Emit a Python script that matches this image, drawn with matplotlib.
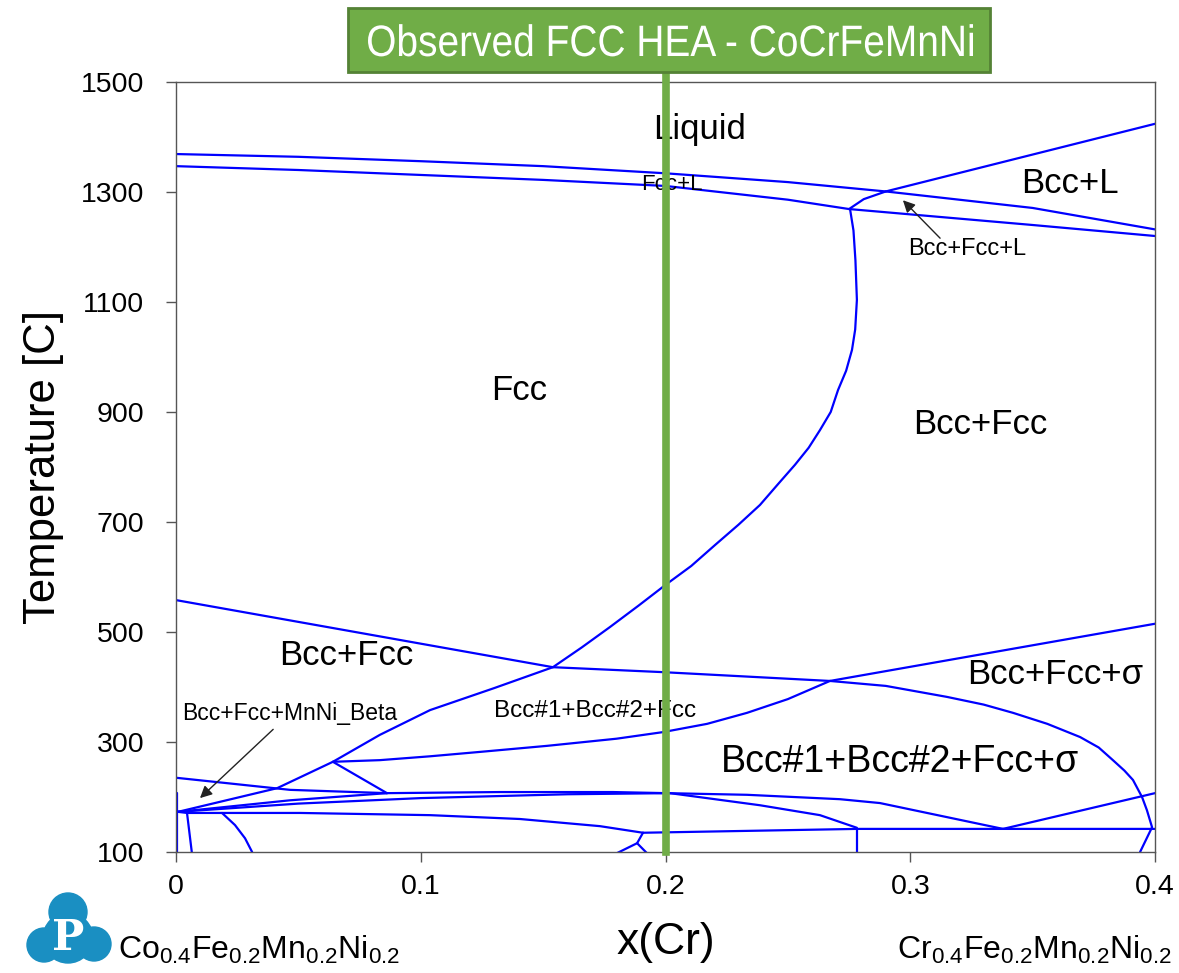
import numpy as np
import matplotlib.pyplot as plt
from matplotlib.patches import Circle, Rectangle, PathPatch
from matplotlib.textpath import TextPath
from matplotlib.font_manager import FontProperties
from matplotlib.transforms import Affine2D

plt.rcParams.update({
    "font.family": ["Liberation Sans", "DejaVu Sans"],
    "mathtext.fontset": "custom",
    "mathtext.rm": "Liberation Sans",
    "mathtext.it": "Liberation Sans",
    "mathtext.default": "regular",
})

# ====== phase boundaries, (x(Cr), T [C]) ======
liq_x = [0.0, 0.05, 0.1, 0.15, 0.2, 0.25, 0.29, 0.35, 0.4]
liq_t = [1369, 1364, 1356, 1347, 1334, 1318, 1301, 1271, 1232]
sol_x = [0.0, 0.05, 0.1, 0.15, 0.2, 0.25, 0.275, 0.35, 0.4]
sol_t = [1347, 1340, 1331, 1322, 1311, 1286, 1269, 1240, 1220]
bccliq_x = [0.29, 0.4]
bccliq_t = [1301, 1424]
bccsol_x = [0.275, 0.281, 0.29]
bccsol_t = [1269, 1287, 1301]

solvus_x = [0.2754, 0.2768, 0.2776, 0.2782, 0.2775, 0.2762, 0.2738, 0.2705, 0.2675,
            0.2631, 0.2585, 0.2529, 0.2462, 0.2386, 0.2298, 0.2202, 0.2105, 0.1998,
            0.189, 0.1773, 0.1658, 0.154, 0.13, 0.1038, 0.0833, 0.0641, 0.0413, 0.0008]
solvus_t = [1269, 1230, 1176, 1104, 1050, 1013, 975, 940, 900,
            867, 835, 804, 770, 731, 695, 658, 620, 585,
            548, 509, 472, 436, 398, 358, 313, 264, 216, 173]

bccfcc_x = [0.0, 0.154]
bccfcc_t = [558, 436]
sigma_x = [0.154, 0.199, 0.2672, 0.29, 0.315, 0.33, 0.342, 0.356, 0.3694, 0.377,
           0.3828, 0.3875, 0.391, 0.3947, 0.3967, 0.3988, 0.3939]
sigma_t = [436, 427, 411, 402, 382, 368, 353, 333, 309, 290,
           267, 248, 231, 200, 176, 145, 100]
sig_up_x = [0.2672, 0.4]
sig_up_t = [411, 515]
bcc2_x = [0.0641, 0.0833, 0.1038, 0.1242, 0.1516, 0.18, 0.199, 0.217, 0.2333, 0.25, 0.2672]
bcc2_t = [264, 267, 274, 282, 293, 306, 318, 333, 353, 378, 411]

low_a_x = [0.0, 0.0466, 0.0862]
low_a_t = [235, 213, 207]
low_b_x = [0.0641, 0.0862]
low_b_t = [264, 207]
low_c_x = [0.0862, 0.1324, 0.1785, 0.2333, 0.2713, 0.2876, 0.3379]
low_c_t = [207, 209, 209, 204, 196, 189, 142]
low_d_x = [0.2018, 0.2386, 0.2631, 0.2782]
low_d_t = [207, 185, 167, 144]
low_e_x = [0.1908, 0.2782, 0.4]
low_e_t = [135, 142, 142]
low_f_x = [0.3379, 0.4]
low_f_t = [142, 207]
low_g_x = [0.2782, 0.2782]
low_g_t = [142, 100]
low_h_x = [0.1908, 0.1884, 0.1802]
low_h_t = [135, 116, 98]
low_i_x = [0.1884, 0.1924]
low_i_t = [116, 98]
low_j_x = [0.0008, 0.0045, 0.0507, 0.1038, 0.1405, 0.1732, 0.1908]
low_j_t = [173, 171, 171, 167, 160, 147, 135]
low_k_x = [0.0045, 0.0065]
low_k_t = [171, 98]
low_l_x = [0.0188, 0.0241, 0.0282, 0.0311]
low_l_t = [171, 149, 125, 100]
low_m_x = [0.0004, 0.0004]
low_m_t = [207, 100]
low_n_x = [0.0008, 0.0466, 0.0862]
low_n_t = [173, 194, 207]
low_o_x = [0.0008, 0.05, 0.1, 0.16, 0.2018]
low_o_t = [173, 188, 198, 205, 207]

lines = [
    (liq_x, liq_t), (sol_x, sol_t), (bccliq_x, bccliq_t), (bccsol_x, bccsol_t),
    (solvus_x, solvus_t), (bccfcc_x, bccfcc_t), (sigma_x, sigma_t),
    (sig_up_x, sig_up_t), (bcc2_x, bcc2_t),
    (low_a_x, low_a_t), (low_b_x, low_b_t), (low_c_x, low_c_t), (low_d_x, low_d_t),
    (low_e_x, low_e_t), (low_f_x, low_f_t), (low_g_x, low_g_t), (low_h_x, low_h_t),
    (low_i_x, low_i_t), (low_j_x, low_j_t), (low_k_x, low_k_t), (low_l_x, low_l_t),
    (low_m_x, low_m_t), (low_n_x, low_n_t), (low_o_x, low_o_t),
]

# region labels: (text, x, T, size)
region_labels = [
    ("Liquid", 0.2141, 1413, 25), ("Fcc", 0.1401, 940, 25), ("Bcc+Fcc", 0.3285, 878, 25),
    ("Bcc+L", 0.3653, 1316, 25), ("Bcc+Fcc", 0.0695, 458, 25),
    ("Bcc+Fcc+\u03c3", 0.3591, 422, 25), ("Bcc#1+Bcc#2+Fcc+\u03c3", 0.2958, 264, 27),
    ("Fcc+L", 0.2027, 1313, 16), ("Bcc+Fcc+L", 0.3232, 1196, 17),
    ("Bcc#1+Bcc#2+Fcc", 0.1712, 356, 17.5), ("Bcc+Fcc+MnNi_Beta", 0.0466, 351, 16.5),
]
arrows = [((0.0397, 323), (0.0098, 198)), ((0.3122, 1216), (0.297, 1285))]

x_ticks = [0, 0.1, 0.2, 0.3, 0.4]
x_ticklabels = ["0", "0.1", "0.2", "0.3", "0.4"]
y_ticks = [100, 300, 500, 700, 900, 1100, 1300, 1500]
x_obs = 0.2
title = "Observed FCC HEA - CoCrFeMnNi"

W, H = 1179, 973
fig = plt.figure(figsize=(W / 100, H / 100), dpi=100)
ax = fig.add_axes([176 / W, 1 - 852 / H, (1155 - 176) / W, (852 - 82) / H])

for xs, ts in lines:
    ax.plot(xs, ts, color="#0000ff", lw=1.6, solid_capstyle="round", solid_joinstyle="round")

for txt, x, t, fs in region_labels:
    ax.text(x, t, txt, fontsize=fs, ha="center", va="center")
for (x0, t0), (x1, t1) in arrows:
    ax.annotate("", xy=(x1, t1), xytext=(x0, t0),
                arrowprops=dict(arrowstyle="-|>", color="#222222", lw=1.0,
                                mutation_scale=18, shrinkA=0, shrinkB=0))

# observed composition marker
ax.plot([x_obs, x_obs], [100, 1518], color="#70ad47", lw=5.5, clip_on=False, zorder=5)

ax.set_xlim(0, 0.4)
ax.set_ylim(100, 1500)
ax.set_xticks(x_ticks)
ax.set_xticklabels(x_ticklabels)
ax.set_yticks(y_ticks)
ax.tick_params(labelsize=20.5, length=7, width=1.0, color="#555555")
ax.tick_params(axis="x", pad=9)
ax.tick_params(axis="y", pad=16)
for s in ax.spines.values():
    s.set_color("#555555")
    s.set_linewidth(1.0)
ax.set_xlabel("x(Cr)", fontsize=32, labelpad=16)
ax.set_ylabel("Temperature [C]", fontsize=31.5, labelpad=12)

# overlay in pixel units for the title box and logo
lax = fig.add_axes([0, 0, 1, 1], zorder=3)
lax.set_xlim(0, W)
lax.set_ylim(H, 0)
lax.axis("off")

lax.add_patch(Rectangle((348, 8), 990 - 348, 72 - 8, facecolor="#70ad47",
                        edgecolor="#548235", lw=2))
tp = TextPath((0, 0), title, size=44, prop=FontProperties(family="Liberation Sans"))
bb = tp.get_extents()
sx = 605 / bb.width
tr = Affine2D().translate(-bb.x0, 0).scale(sx, -1).translate(368, 56)
lax.add_patch(PathPatch(tr.transform_path(tp), facecolor="white", edgecolor="none"))

# end-member compositions
fig.text(118 / W, 1 - 950 / H, r"Co$_{0.4}$Fe$_{0.2}$Mn$_{0.2}$Ni$_{0.2}$",
         fontsize=23, ha="left", va="center")
fig.text(1172 / W, 1 - 950 / H, r"Cr$_{0.4}$Fe$_{0.2}$Mn$_{0.2}$Ni$_{0.2}$",
         fontsize=23, ha="right", va="center")

# logo
blue = "#1a8fc2"
for cx, cy, r in [(68, 912, 19), (44, 945, 17), (94, 944, 17), (68, 938, 25)]:
    lax.add_patch(Circle((cx, cy), r, color=blue))
lax.text(68, 938, "P", color="white", fontsize=31, fontweight="bold",
         family="DejaVu Serif", ha="center", va="center")

fig.savefig("out.png", dpi=100)
